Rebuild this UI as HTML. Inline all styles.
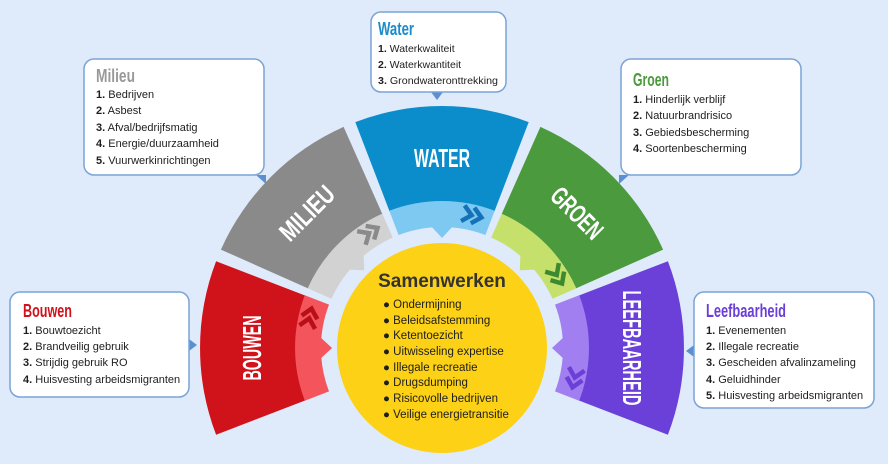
<!DOCTYPE html>
<html><head><meta charset="utf-8"><style>
html,body{margin:0;padding:0;background:#dfeafa;}
svg{display:block;font-family:"Liberation Sans",sans-serif;}
.t{font-size:11px;fill:#1e1e1e;}
.n{font-weight:bold;}
.h{font-size:18px;font-weight:bold;}
.lab{font-size:26px;font-weight:bold;fill:#fff;}
</style></head><body>
<svg id="s" width="888" height="464" viewBox="0 0 888 464" xmlns="http://www.w3.org/2000/svg">
<rect width="888" height="464" fill="#dfeafa"/>
<g id="segs"></g>
<circle cx="442" cy="348" r="105" fill="#fcd116"/>

<text class="lab" text-anchor="middle" textLength="56" lengthAdjust="spacingAndGlyphs" x="442" y="167">WATER</text>
<text class="lab" text-anchor="middle" textLength="66" lengthAdjust="spacingAndGlyphs" transform="translate(307,213) rotate(-45)" x="0" y="9">MILIEU</text>
<text class="lab" text-anchor="middle" textLength="62" lengthAdjust="spacingAndGlyphs" transform="translate(577,213) rotate(45)" x="0" y="9">GROEN</text>
<text class="lab" text-anchor="middle" textLength="65" lengthAdjust="spacingAndGlyphs" transform="translate(252,348) rotate(-90)" x="0" y="9">BOUWEN</text>
<text class="lab" text-anchor="middle" textLength="115" lengthAdjust="spacingAndGlyphs" transform="translate(632,348) rotate(90)" x="0" y="9">LEEFBAARHEID</text>

<text x="442" y="287" text-anchor="middle" style="font-size:19px;font-weight:bold;fill:#333">Samenwerken</text>
<g class="t" style="font-size:11.5px">
<text x="383" y="308">● Ondermijning</text>
<text x="383" y="324">● Beleidsafstemming</text>
<text x="383" y="339">● Ketentoezicht</text>
<text x="383" y="355">● Uitwisseling expertise</text>
<text x="383" y="371">● Illegale recreatie</text>
<text x="383" y="386">● Drugsdumping</text>
<text x="383" y="402">● Risicovolle bedrijven</text>
<text x="383" y="418">● Veilige energietransitie</text>
</g>

<g fill="#5b8fd0">
<polygon points="256,175 266,175 266,184"/>
<polygon points="629,175 619,175 619,184"/>
<polygon points="431,92 443,92 437,100"/>
<polygon points="189,339 189,351 197,345"/>
<polygon points="694,345 694,357 686,351"/>
</g>
<g fill="#fff" stroke="#7aa3d6" stroke-width="1.5">
<rect x="84" y="59" width="180" height="116" rx="10"/>
<rect x="621" y="59" width="180" height="116" rx="10"/>
<rect x="371" y="12" width="135" height="80" rx="10"/>
<rect x="10" y="292" width="179" height="105" rx="10"/>
<rect x="694" y="292" width="180" height="116" rx="10"/>
</g>

<text x="96" y="82" class="h" fill="#999" textLength="39" lengthAdjust="spacingAndGlyphs">Milieu</text>
<g class="t"><text x="96" y="98"><tspan class="n">1.</tspan> Bedrijven</text>
<text x="96" y="114"><tspan class="n">2.</tspan> Asbest</text>
<text x="96" y="131"><tspan class="n">3.</tspan> Afval/bedrijfsmatig</text>
<text x="96" y="147"><tspan class="n">4.</tspan> Energie/duurzaamheid</text>
<text x="96" y="164"><tspan class="n">5.</tspan> Vuurwerkinrichtingen</text></g>

<text x="633" y="86" class="h" fill="#4a9a3c" textLength="36" lengthAdjust="spacingAndGlyphs">Groen</text>
<g class="t"><text x="633" y="103"><tspan class="n">1.</tspan> Hinderlijk verblijf</text>
<text x="633" y="119"><tspan class="n">2.</tspan> Natuurbrandrisico</text>
<text x="633" y="136"><tspan class="n">3.</tspan> Gebiedsbescherming</text>
<text x="633" y="152"><tspan class="n">4.</tspan> Soortenbescherming</text></g>

<text x="378" y="35" class="h" fill="#1a8ccc" textLength="36" lengthAdjust="spacingAndGlyphs">Water</text>
<g class="t" style="font-size:10.5px"><text x="378" y="52"><tspan class="n">1.</tspan> Waterkwaliteit</text>
<text x="378" y="68"><tspan class="n">2.</tspan> Waterkwantiteit</text>
<text x="378" y="84" textLength="120" lengthAdjust="spacingAndGlyphs"><tspan class="n">3.</tspan> Grondwateronttrekking</text></g>

<text x="23" y="317" class="h" fill="#d0121b" textLength="49" lengthAdjust="spacingAndGlyphs">Bouwen</text>
<g class="t"><text x="23" y="334"><tspan class="n">1.</tspan> Bouwtoezicht</text>
<text x="23" y="350"><tspan class="n">2.</tspan> Brandveilig gebruik</text>
<text x="23" y="366"><tspan class="n">3.</tspan> Strijdig gebruik RO</text>
<text x="23" y="383"><tspan class="n">4.</tspan> Huisvesting arbeidsmigranten</text></g>

<text x="706" y="317" class="h" fill="#6a3fd8" textLength="80" lengthAdjust="spacingAndGlyphs">Leefbaarheid</text>
<g class="t"><text x="706" y="334"><tspan class="n">1.</tspan> Evenementen</text>
<text x="706" y="350"><tspan class="n">2.</tspan> Illegale recreatie</text>
<text x="706" y="366"><tspan class="n">3.</tspan> Gescheiden afvalinzameling</text>
<text x="706" y="383"><tspan class="n">4.</tspan> Geluidhinder</text>
<text x="706" y="399"><tspan class="n">5.</tspan> Huisvesting arbeidsmigranten</text></g>
</svg>
<script>
(function(){
var cx=442,cy=348,NS="http://www.w3.org/2000/svg",g=document.getElementById("segs");
function P(a,r){a=a*Math.PI/180;return (cx+r*Math.cos(a)).toFixed(1)+","+(cy-r*Math.sin(a)).toFixed(1);}
function sector(a1,a2,r1,r2){return "M"+P(a1,r2)+" A"+r2+","+r2+" 0 0 0 "+P(a2,r2)+" L"+P(a2,r1)+" A"+r1+","+r1+" 0 0 1 "+P(a1,r1)+"Z";}
function add(d,f){var p=document.createElementNS(NS,"path");p.setAttribute("d",d);p.setAttribute("fill",f);g.appendChild(p);return p;}
var S=[[180,"#d0121b","#f4545c","#b80f18"],[135,"#8a8a8a","#d2d2d2","#8a8a8a"],[90,"#0b8ccb","#7dc9f1","#1672b6"],[45,"#4b9a3d","#c6e06c","#3c8a30"],[0,"#6b40d9","#a27ff1","#6b40d9"]];
S.forEach(function(s){
 var c=s[0];
 add(sector(c-21,c+21,146,242),s[1]);
 add(sector(c-21,c+21,121,147),s[2]);
 add("M"+P(c-5,122)+" L"+P(c,110)+" L"+P(c+5,122)+"Z",s[2]);
 var th=c-13,r=136,a=th*Math.PI/180,x=cx+r*Math.cos(a),y=cy-r*Math.sin(a),rot=90-th;
 [-5,5].forEach(function(o){
  var pl=document.createElementNS(NS,"polyline");
  pl.setAttribute("points",(o-5)+",-8 "+(o+4)+",0 "+(o-5)+",8");
  pl.setAttribute("fill","none");pl.setAttribute("stroke",s[3]);pl.setAttribute("stroke-width","4.5");
  pl.setAttribute("transform","translate("+x.toFixed(1)+","+y.toFixed(1)+") rotate("+rot+")");
  g.appendChild(pl);
 });
});
})();
</script>
</body></html>
